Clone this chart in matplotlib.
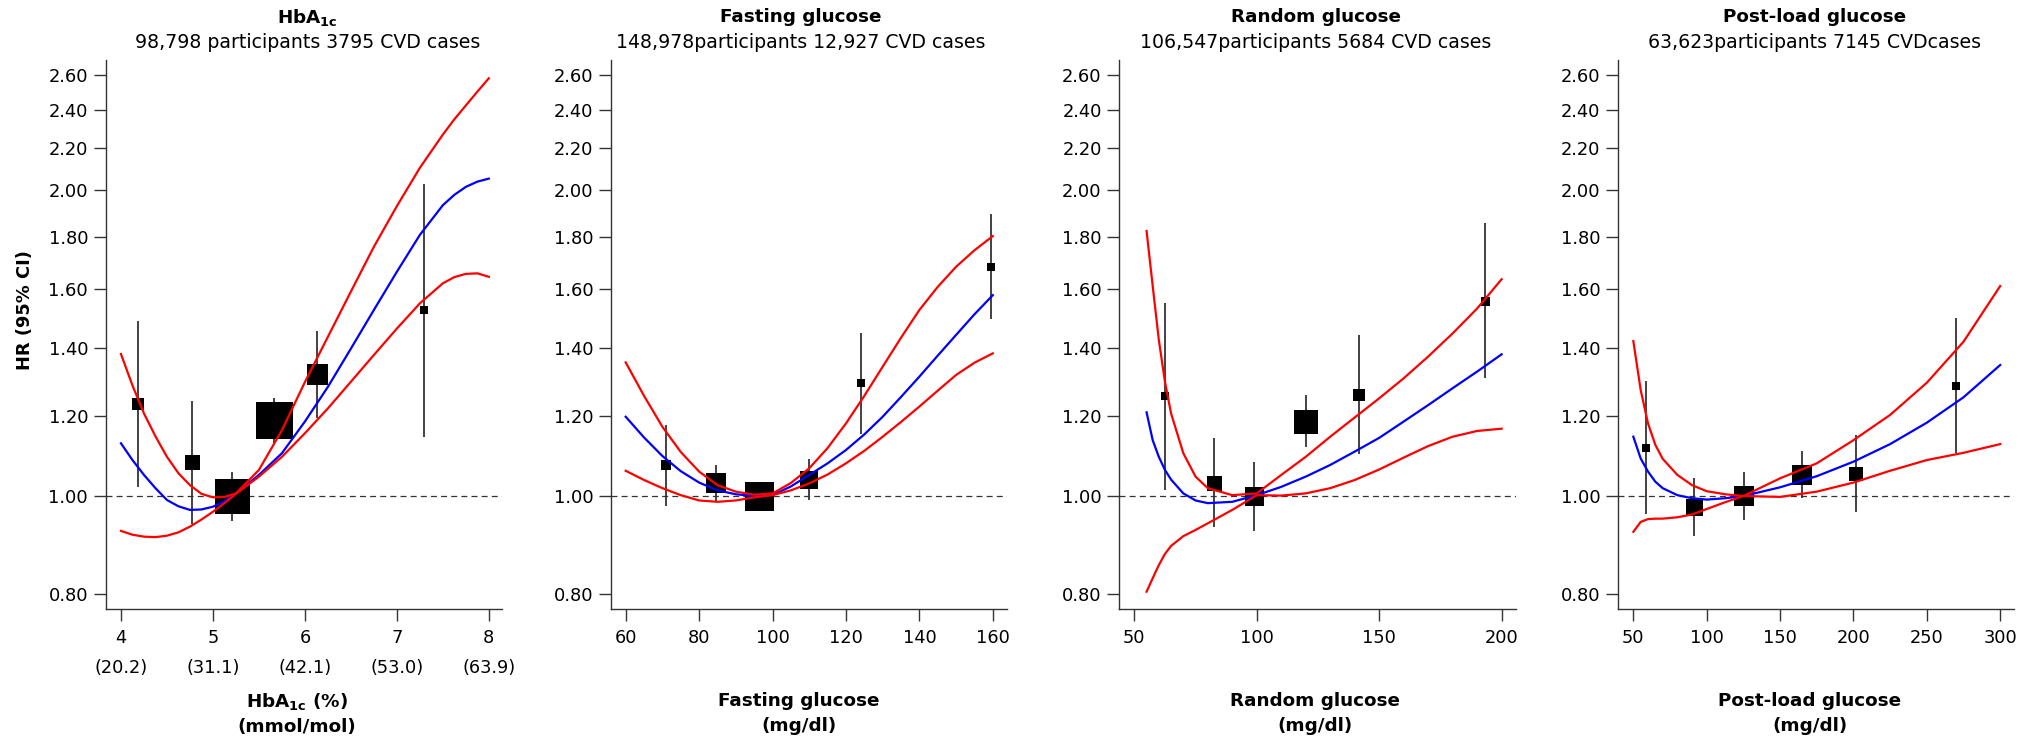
import matplotlib
matplotlib.use("Agg")
import matplotlib.pyplot as plt
from matplotlib.ticker import FixedLocator, FixedFormatter, NullLocator

plt.rcParams['font.family'] = ['DejaVu Sans']
plt.rcParams['mathtext.fontset'] = 'dejavusans'
plt.rcParams['lines.scale_dashes'] = False

# ---- HbA1c ----
hba1c_x = [4.19, 4.77, 5.21, 5.66, 6.13, 7.29]
hba1c_hr = [1.233, 1.080, 1.000, 1.187, 1.319, 1.524]
hba1c_lo = [1.021, 0.938, 0.946, 1.127, 1.194, 1.144]
hba1c_hi = [1.486, 1.241, 1.056, 1.250, 1.454, 2.027]
hba1c_grid = [4.0, 4.125, 4.25, 4.375, 4.5, 4.625, 4.75, 4.875, 5.0, 5.125, 5.25,
              5.5, 5.75, 6.0, 6.25, 6.5, 6.75, 7.0, 7.25, 7.5, 7.625, 7.75, 7.875, 8.0]
hba1c_fit = [1.127, 1.085, 1.049, 1.018, 0.991, 0.977, 0.969, 0.970, 0.976, 0.988,
             1.006, 1.049, 1.102, 1.184, 1.281, 1.397, 1.525, 1.663, 1.808, 1.934,
             1.980, 2.016, 2.040, 2.054]
hba1c_fit_hi = [1.380, 1.285, 1.206, 1.145, 1.093, 1.053, 1.025, 1.005, 0.997, 0.998,
                1.006, 1.061, 1.161, 1.295, 1.435, 1.590, 1.760, 1.930, 2.105, 2.270,
                2.350, 2.425, 2.502, 2.579]
hba1c_fit_lo = [0.924, 0.916, 0.912, 0.911, 0.914, 0.921, 0.933, 0.948, 0.965, 0.984,
                1.005, 1.045, 1.093, 1.153, 1.220, 1.296, 1.377, 1.462, 1.548, 1.620,
                1.643, 1.655, 1.657, 1.644]
hba1c_ticks = [4, 5, 6, 7, 8]
hba1c_ticklabels = ['4\n(20.2)', '5\n(31.1)', '6\n(42.1)', '7\n(53.0)', '8\n(63.9)']

# ---- fasting glucose ----
fpg_x = [70.9, 84.6, 96.4, 109.9, 124.0, 159.5]
fpg_hr = [1.073, 1.029, 1.000, 1.036, 1.291, 1.682]
fpg_lo = [0.978, 0.987, 0.975, 0.990, 1.151, 1.494]
fpg_hi = [1.176, 1.073, 1.025, 1.087, 1.446, 1.895]
fpg_grid = [60, 65, 70, 75, 80, 85, 90, 95, 100, 105, 110, 115, 120, 125, 130,
            135, 140, 145, 150, 155, 160]
fpg_fit = [1.197, 1.142, 1.095, 1.058, 1.031, 1.013, 1.004, 1.000, 1.002, 1.022,
           1.049, 1.077, 1.110, 1.150, 1.197, 1.252, 1.311, 1.375, 1.441, 1.510, 1.577]
fpg_fit_hi = [1.354, 1.255, 1.170, 1.105, 1.057, 1.025, 1.010, 1.003, 1.006, 1.030,
              1.065, 1.115, 1.179, 1.255, 1.341, 1.432, 1.525, 1.607, 1.682, 1.746, 1.803]
fpg_fit_lo = [1.059, 1.037, 1.018, 1.002, 0.990, 0.987, 0.990, 0.997, 1.002, 1.013,
              1.029, 1.050, 1.077, 1.108, 1.144, 1.183, 1.225, 1.270, 1.316, 1.353, 1.382]
fpg_ticks = [60, 80, 100, 120, 140, 160]

# ---- random glucose ----
rpg_x = [62.7, 82.5, 98.9, 120.0, 141.6, 193.3]
rpg_hr = [1.255, 1.031, 1.000, 1.184, 1.257, 1.557]
rpg_lo = [1.014, 0.933, 0.924, 1.117, 1.099, 1.308]
rpg_hi = [1.550, 1.140, 1.081, 1.257, 1.441, 1.858]
rpg_grid = [55, 57.5, 60, 62.5, 65, 70, 75, 80, 90, 100, 110, 120, 130, 140,
            150, 160, 170, 180, 190, 200]
rpg_fit = [1.209, 1.135, 1.093, 1.061, 1.038, 1.006, 0.990, 0.984, 0.987, 1.002,
           1.021, 1.045, 1.073, 1.106, 1.141, 1.184, 1.229, 1.277, 1.326, 1.379]
rpg_fit_hi = [1.824, 1.610, 1.425, 1.296, 1.206, 1.102, 1.045, 1.018, 1.002, 1.006,
              1.049, 1.093, 1.144, 1.195, 1.248, 1.306, 1.372, 1.446, 1.530, 1.635]
rpg_fit_lo = [0.805, 0.830, 0.855, 0.877, 0.893, 0.913, 0.926, 0.940, 0.969, 1.002,
              1.001, 1.006, 1.018, 1.037, 1.062, 1.091, 1.120, 1.144, 1.159, 1.165]
rpg_ticks = [50, 100, 150, 200]

# ---- post-load glucose ----
plg_x = [58.6, 91.4, 125.2, 164.8, 201.8, 270.0]
plg_hr = [1.116, 0.976, 1.000, 1.050, 1.051, 1.284]
plg_lo = [0.959, 0.913, 0.947, 0.995, 0.964, 1.102]
plg_hi = [1.298, 1.042, 1.055, 1.107, 1.148, 1.499]
plg_grid = [50, 55, 60, 65, 70, 80, 90, 100, 112.5, 125, 150, 175, 200, 225,
            250, 275, 300]
plg_fit = [1.144, 1.089, 1.057, 1.033, 1.018, 1.002, 0.995, 0.992, 0.995, 1.000,
           1.020, 1.046, 1.081, 1.125, 1.181, 1.251, 1.346]
plg_fit_hi = [1.421, 1.272, 1.179, 1.123, 1.088, 1.049, 1.025, 1.011, 1.004, 1.000,
              1.041, 1.077, 1.135, 1.202, 1.293, 1.419, 1.610]
plg_fit_lo = [0.922, 0.943, 0.949, 0.950, 0.950, 0.953, 0.959, 0.971, 0.986, 1.000,
              0.998, 1.010, 1.031, 1.059, 1.085, 1.103, 1.125]
plg_ticks = [50, 100, 150, 200, 250, 300]

hr_ticks = [0.8, 1.0, 1.2, 1.4, 1.6, 1.8, 2.0, 2.2, 2.4, 2.6]

titles = [r'HbA$_{\mathbf{1c}}$', 'Fasting glucose', 'Random glucose', 'Post-load glucose']
subtitles = ['98,798 participants 3795 CVD cases',
             '148,978participants 12,927 CVD cases',
             '106,547participants 5684 CVD cases',
             '63,623participants 7145 CVDcases']
xlabels = [r'HbA$_{\mathbf{1c}}$ (%)' + '\n(mmol/mol)',
           'Fasting glucose\n(mg/dl)',
           'Random glucose\n(mg/dl)',
           'Post-load glucose\n(mg/dl)']

# box side (px) scales with the weight of each group
box_px = [[12, 15, 35, 37, 21, 8],
          [10, 20, 29, 18, 8, 8],
          [7.5, 15, 19, 24, 12, 9],
          [8.5, 17, 20, 20, 13.5, 8]]

panels = [
    (hba1c_x, hba1c_hr, hba1c_lo, hba1c_hi, hba1c_grid, hba1c_fit, hba1c_fit_lo, hba1c_fit_hi,
     hba1c_ticks, hba1c_ticklabels, (3.834, 8.145)),
    (fpg_x, fpg_hr, fpg_lo, fpg_hi, fpg_grid, fpg_fit, fpg_fit_lo, fpg_fit_hi,
     fpg_ticks, [str(t) for t in fpg_ticks], (56.0, 164.0)),
    (rpg_x, rpg_hr, rpg_lo, rpg_hi, rpg_grid, rpg_fit, rpg_fit_lo, rpg_fit_hi,
     rpg_ticks, [str(t) for t in rpg_ticks], (43.86, 205.8)),
    (plg_x, plg_hr, plg_lo, plg_hi, plg_grid, plg_fit, plg_fit_lo, plg_fit_hi,
     plg_ticks, [str(t) for t in plg_ticks], (39.55, 309.75)),
]

W, H = 2040, 738
fig = plt.figure(figsize=(W / 100, H / 100), dpi=100)

ax_left = [105.7, 611.0, 1119.3, 1618.0]
title_cx = [307.5, 800.3, 1316.0, 1815.0]
xlabel_cx = [297.0, 799.0, 1315.0, 1810.0]
ax_top, ax_bot, ax_w = 60.0, 609.0, 396.5
ink = '#333333'

for i, (x, hr, lo, hi, grid, fit, flo, fhi, xt, xtl, xlim) in enumerate(panels):
    ax = fig.add_axes([ax_left[i] / W, (H - ax_bot) / H, ax_w / W, (ax_bot - ax_top) / H])
    ax.set_yscale('log')
    ax.set_ylim(0.774, 2.688)
    ax.set_xlim(*xlim)

    ax.axhline(1.0, color=ink, lw=0.9, ls=(0, (4.3, 3.0)), zorder=1)
    ax.vlines(x, lo, hi, color=ink, lw=1.3, zorder=2)
    for xi, yi, s in zip(x, hr, box_px[i]):
        ax.plot(xi, yi, marker='s', ms=s * 0.72, mew=0, color='black', ls='none', zorder=3)

    ax.plot(grid, fit, color='#0000ff', lw=1.6, zorder=4)
    ax.plot(grid, fhi, color='#ff0000', lw=1.6, zorder=5)
    ax.plot(grid, flo, color='#ff0000', lw=1.6, zorder=5)

    for side in ('top', 'right'):
        ax.spines[side].set_visible(False)
    for side in ('left', 'bottom'):
        ax.spines[side].set_linewidth(1.0)
        ax.spines[side].set_color(ink)

    ax.yaxis.set_major_locator(FixedLocator(hr_ticks))
    ax.yaxis.set_major_formatter(FixedFormatter(['%.2f' % v for v in hr_ticks]))
    ax.yaxis.set_minor_locator(NullLocator())
    ax.xaxis.set_major_locator(FixedLocator(xt))
    ax.xaxis.set_major_formatter(FixedFormatter(xtl))
    ax.tick_params(axis='y', length=9, width=1.0, pad=3.6, labelsize=12.9, color=ink)
    ax.tick_params(axis='x', length=8.3, width=1.0, pad=6, labelsize=12.8, color=ink)
    for t in ax.get_xticklabels():
        t.set_linespacing(1.85)

    fig.text(title_cx[i] / W, 1 - 17 / H, titles[i], ha='center', va='center',
             fontsize=13.2, fontweight='bold')
    fig.text(title_cx[i] / W, 1 - 42 / H, subtitles[i], ha='center', va='center',
             fontsize=13.6)
    fig.text(xlabel_cx[i] / W, 1 - 713.5 / H, xlabels[i], ha='center', va='center',
             fontsize=13.2, fontweight='bold', linespacing=1.45)

fig.text(25 / W, 1 - 310 / H, 'HR (95% CI)', rotation=90, ha='center', va='center',
         fontsize=12.9, fontweight='bold')

fig.savefig('out.png', dpi=100, facecolor='white')
